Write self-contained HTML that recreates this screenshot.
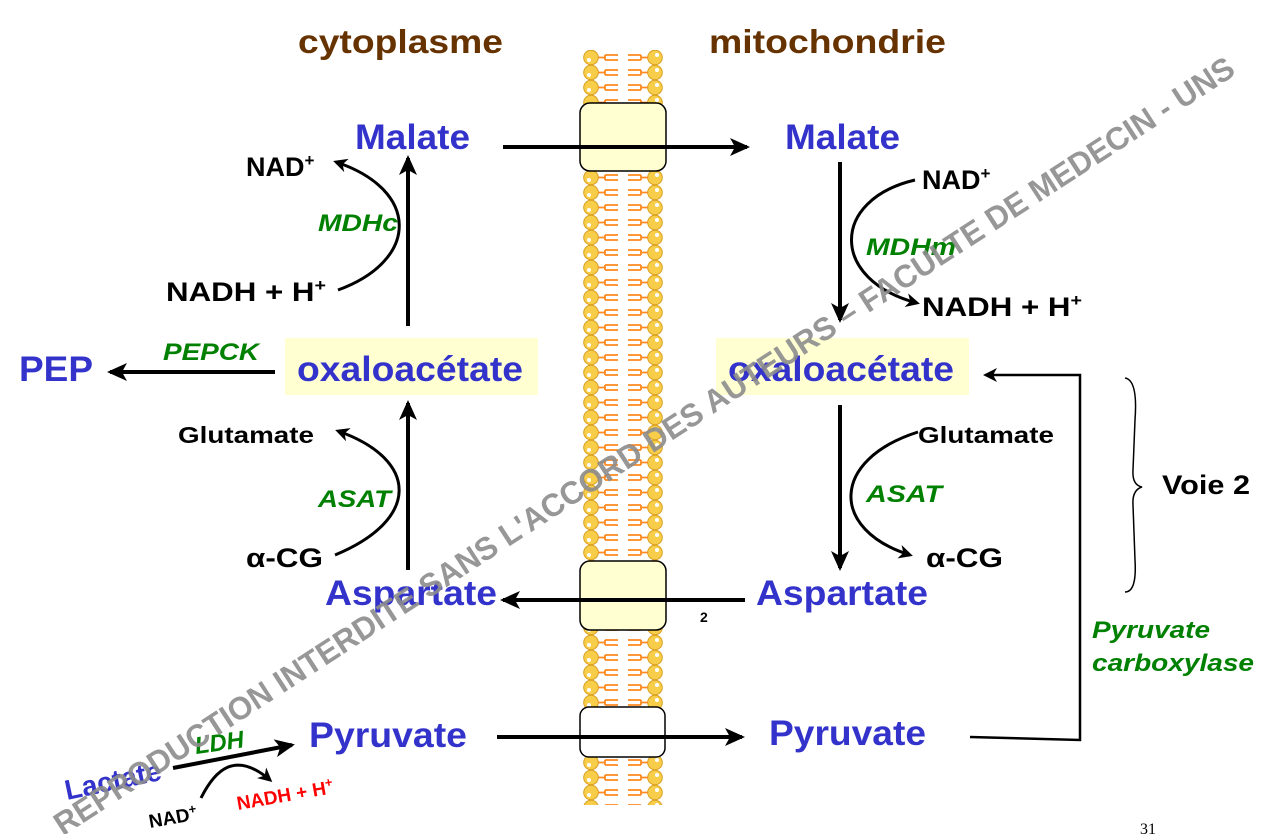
<!DOCTYPE html>
<html><head><meta charset="utf-8"><style>
body{margin:0;background:#fff;}
svg{display:block;font-family:"Liberation Sans",Arial,sans-serif;font-weight:bold;}
</style></head><body>
<svg width="1277" height="834" viewBox="0 0 1277 834">
<defs>
<marker id="a" markerWidth="14" markerHeight="14" refX="11" refY="7" orient="auto" markerUnits="userSpaceOnUse" viewBox="0 0 14 14"><path d="M0,0 L14,7 L0,14 L4,7 z" fill="#000"/></marker>
<marker id="b" markerWidth="20" markerHeight="18" refX="17" refY="9" orient="auto" markerUnits="userSpaceOnUse" viewBox="0 0 20 18"><path d="M0,0 L20,9 L0,18 L5,9 z" fill="#000"/></marker>
<pattern id="lip" x="583" y="50" width="80" height="15" patternUnits="userSpaceOnUse">
<circle cx="8" cy="7.5" r="7.3" fill="#f7cd4a" stroke="#d9a020" stroke-width="1"/>
<circle cx="6" cy="10" r="2" fill="#fff"/>
<circle cx="72" cy="7.5" r="7.3" fill="#f7cd4a" stroke="#d9a020" stroke-width="1"/>
<circle cx="74" cy="5" r="2" fill="#fff"/>
<path d="M15,7.5 H22 M22,5 H35 M22,10 H35 M22,5 V10 M45,5 H58 M45,10 H58 M58,5 V10 M58,7.5 H65" stroke="#ff8a1f" stroke-width="1.8" fill="none"/>
</pattern>
</defs>
<rect x="583" y="50" width="80" height="755" fill="url(#lip)"/>
<rect x="580" y="103" width="86" height="68" rx="10" fill="#ffffd2" stroke="#000" stroke-width="1.5"/>
<rect x="580" y="561" width="86" height="69" rx="10" fill="#ffffd2" stroke="#000" stroke-width="1.5"/>
<rect x="580" y="707" width="85" height="50" rx="9" fill="#fff" stroke="#000" stroke-width="1.5"/>

<rect x="285" y="338" width="253" height="57" fill="#ffffd2"/>
<rect x="716" y="338" width="253" height="57" fill="#ffffd2"/>

<text x="298" y="53" font-size="33" fill="#663300" textLength="205" lengthAdjust="spacingAndGlyphs">cytoplasme</text>
<text x="709" y="53" font-size="33" fill="#663300" textLength="237" lengthAdjust="spacingAndGlyphs">mitochondrie</text>

<g fill="#3333cc" font-size="35" lengthAdjust="spacingAndGlyphs">
<text x="355" y="149" textLength="115" lengthAdjust="spacingAndGlyphs">Malate</text>
<text x="785" y="149" textLength="115" lengthAdjust="spacingAndGlyphs">Malate</text>
<text x="297" y="381" textLength="226" lengthAdjust="spacingAndGlyphs">oxaloacétate</text>
<text x="728" y="381" textLength="226" lengthAdjust="spacingAndGlyphs">oxaloacétate</text>
<text x="19" y="381" textLength="74" lengthAdjust="spacingAndGlyphs">PEP</text>
<text x="325" y="605" textLength="172" lengthAdjust="spacingAndGlyphs">Aspartate</text>
<text x="756" y="605" textLength="172" lengthAdjust="spacingAndGlyphs">Aspartate</text>
<text x="309" y="747" textLength="158" lengthAdjust="spacingAndGlyphs">Pyruvate</text>
<text x="769" y="745" textLength="157" lengthAdjust="spacingAndGlyphs">Pyruvate</text>
</g>
<text x="67" y="800" font-size="28" fill="#3333cc" transform="rotate(-12 67 800)">Lactate</text>

<g font-size="27" fill="#000">
<text x="246" y="176">NAD<tspan font-size="17" dy="-10">+</tspan></text>
<text x="166" y="301" textLength="160" lengthAdjust="spacingAndGlyphs">NADH + H<tspan font-size="17" dy="-10">+</tspan></text>
<text x="922" y="189">NAD<tspan font-size="17" dy="-10">+</tspan></text>
<text x="922" y="316" textLength="160" lengthAdjust="spacingAndGlyphs">NADH + H<tspan font-size="17" dy="-10">+</tspan></text>
<text x="246" y="567" textLength="77" lengthAdjust="spacingAndGlyphs">α-CG</text>
<text x="926" y="567" textLength="77" lengthAdjust="spacingAndGlyphs">α-CG</text>
<text x="1162" y="494" textLength="88" lengthAdjust="spacingAndGlyphs">Voie 2</text>
</g>
<g font-size="23" fill="#000">
<text x="178" y="443" textLength="136" lengthAdjust="spacingAndGlyphs">Glutamate</text>
<text x="918" y="443" textLength="136" lengthAdjust="spacingAndGlyphs">Glutamate</text>
</g>
<text x="700" y="622" font-size="14">2</text>
<text x="150" y="828" font-size="19" transform="rotate(-10 150 828)">NAD<tspan font-size="13" dy="-7">+</tspan></text>
<text x="238" y="810" font-size="19" fill="#ff0000" transform="rotate(-10 238 810)">NADH + H<tspan font-size="13" dy="-7">+</tspan></text>

<g font-size="24" fill="#008000" font-style="italic">
<text x="318" y="231" textLength="80" lengthAdjust="spacingAndGlyphs">MDHc</text>
<text x="866" y="255" textLength="90" lengthAdjust="spacingAndGlyphs">MDHm</text>
<text x="163" y="360" textLength="96" lengthAdjust="spacingAndGlyphs">PEPCK</text>
<text x="318" y="507" textLength="73" lengthAdjust="spacingAndGlyphs">ASAT</text>
<text x="866" y="502" textLength="76" lengthAdjust="spacingAndGlyphs">ASAT</text>
<text x="1092" y="638" textLength="118" lengthAdjust="spacingAndGlyphs">Pyruvate</text>
<text x="1092" y="671" textLength="162" lengthAdjust="spacingAndGlyphs">carboxylase</text>
<text x="196" y="754" transform="rotate(-8 196 754)">LDH</text>
</g>

<g stroke="#000" stroke-width="4" fill="none">
<line x1="503" y1="147" x2="747" y2="147" marker-end="url(#b)"/>
<line x1="408" y1="326" x2="408" y2="158" marker-end="url(#b)"/>
<line x1="840" y1="162" x2="840" y2="320" marker-end="url(#b)"/>
<line x1="275" y1="372" x2="110" y2="372" marker-end="url(#b)"/>
<line x1="408" y1="570" x2="408" y2="403" marker-end="url(#b)"/>
<line x1="840" y1="405" x2="840" y2="568" marker-end="url(#b)"/>
<line x1="745" y1="600" x2="503" y2="600" marker-end="url(#b)"/>
<line x1="497" y1="737" x2="742" y2="737" marker-end="url(#b)"/>
<line x1="173" y1="768" x2="292" y2="745" marker-end="url(#b)"/>
</g>
<g stroke="#000" stroke-width="3" fill="none">
<path d="M338,290 C420,260 420,190 336,162" marker-end="url(#a)"/>
<path d="M915,180 C830,200 830,280 917,303" marker-end="url(#a)"/>
<path d="M335,555 C420,520 420,460 338,431" marker-end="url(#a)"/>
<path d="M918,432 C830,460 830,530 910,555" marker-end="url(#a)"/>
<path d="M201,798 C215,770 235,750 270,780" marker-end="url(#a)"/>
</g>
<g stroke="#000" stroke-width="2.5" fill="none">
<polyline points="970,737 1080,740 1080,375 986,375" marker-end="url(#a)"/>
<path d="M1125,378 Q1138,380 1135,420 L1133,470 Q1132,485 1142,487 Q1132,490 1133,505 L1135,560 Q1137,592 1125,592" stroke-width="1.5"/>
</g>
<text x="1140" y="834" font-size="16" font-weight="normal" font-family="Liberation Serif,serif">31</text>

<text x="650" y="455" font-size="32" fill="#8c8c8c" fill-opacity="0.9" text-anchor="middle" transform="rotate(-33 650 455)" textLength="1400" lengthAdjust="spacingAndGlyphs">REPRODUCTION INTERDITE SANS L'ACCORD DES AUTEURS – FACULTE DE MEDECIN - UNS</text>
</svg>
</body></html>
